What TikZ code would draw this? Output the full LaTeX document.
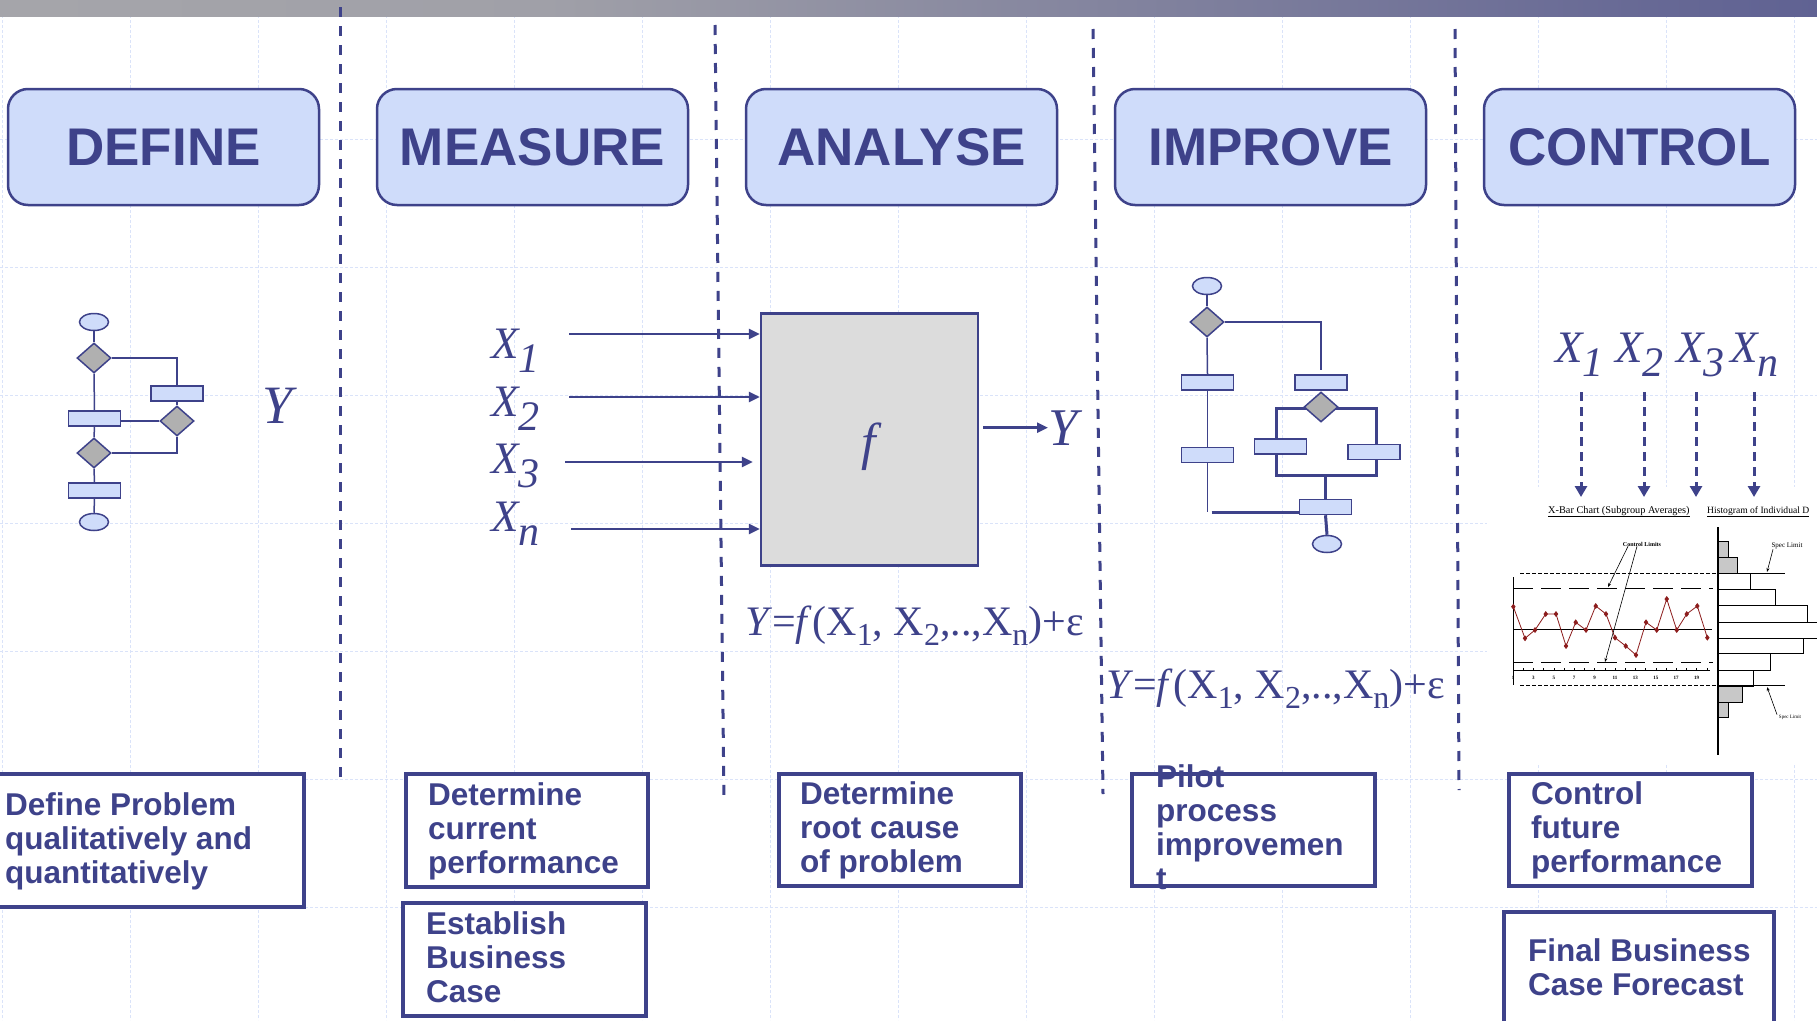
\documentclass[tikz,border=0pt]{standalone}
\usepackage{fontspec}
\setmainfont{Liberation Sans}
\newfontfamily\tnr{Liberation Serif}
\usetikzlibrary{shapes.geometric,arrows.meta,plotmarks}

\definecolor{ink}{RGB}{62,66,138}
\definecolor{paleblue}{RGB}{207,220,250}
\definecolor{diagray}{RGB}{176,176,176}
\definecolor{boxgray}{RGB}{220,220,220}
\definecolor{gridblue}{RGB}{218,227,249}
\definecolor{histgray}{RGB}{200,200,200}
\definecolor{barA}{RGB}{174,174,174}
\definecolor{barB}{RGB}{160,160,168}
\definecolor{barC}{RGB}{100,102,148}
\definecolor{barD}{RGB}{62,66,138}
\definecolor{chartred}{RGB}{140,28,28}

\pgfdeclarehorizontalshading{barshade}{100bp}{color(0bp)=(barA); color(40bp)=(barB); color(72bp)=(barC); color(100bp)=(barD)}

% line strut for the task boxes: height 25.5pt, depth 8.5pt
\newcommand{\ls}{\rule[-8.5pt]{0pt}{34pt}}
% lowered subscripts for the large labels and for the formula
\newcommand{\lsub}[1]{\raisebox{-14pt}{\fontsize{42}{42}\selectfont #1}}
\newcommand{\esub}[1]{\raisebox{-10pt}{\fontsize{32}{32}\selectfont #1}}

\tikzset{
  gridline/.style={gridblue, line width=1pt, dash pattern=on 3pt off 2pt},
  divider/.style={ink, line width=3pt, dash pattern=on 10pt off 9pt},
  phase/.style={draw=ink, fill=paleblue, line width=2.5pt, rounded corners=20pt,
    minimum width=311pt, minimum height=116pt, inner sep=0pt, text=ink,
    font=\fontsize{53}{60}\selectfont\bfseries},
  taskbox/.style={draw=ink, fill=white, line width=3.5pt, inner sep=0pt, outer sep=0pt},
  tasktext/.style={text=ink, font=\fontsize{31.5}{34}\selectfont\bfseries,
    align=left, inner sep=0pt, anchor=west},
  fcline/.style={ink, line width=1.5pt},
  fcthick/.style={ink, line width=3pt},
  fcrect/.style={draw=ink, fill=paleblue, line width=1.5pt, minimum width=52pt,
    minimum height=15pt, inner sep=0pt},
  fcdia/.style={diamond, draw=ink, fill=diagray, line width=1.5pt, minimum width=34pt,
    minimum height=30pt, inner sep=0pt},
  fcend/.style={ellipse, draw=ink, fill=paleblue, line width=1.5pt, minimum width=29pt,
    minimum height=17pt, inner sep=0pt},
  mathlbl/.style={text=ink, inner sep=0pt, anchor=base west,
    font=\tnr\itshape\fontsize{45}{45}\selectfont},
  formula/.style={text=ink, inner sep=0pt, anchor=base west,
    font=\tnr\fontsize{42}{42}\selectfont},
  arr/.style={ink, line width=2.5pt, -{Triangle[length=11pt,width=10pt]}},
  darr/.style={ink, line width=3pt, dash pattern=on 9pt off 6pt, -{Triangle[length=11pt,width=12pt]}},
  chartfont/.style={text=black, inner sep=0pt, font=\tnr\fontsize{#1}{#1}\selectfont},
  thinarr/.style={black, line width=0.6pt, -{Stealth[length=4pt,width=3pt]}},
}

\begin{document}
\begin{tikzpicture}[x=1pt, y=-1pt]
\useasboundingbox (0,0) rectangle (1817,1020);
\clip (0,0) rectangle (1817,1020);
\fill[white] (0,0) rectangle (1817,1020);

% background grid
\foreach \gx in {2,130,...,1794} \draw[gridline] (\gx,0) -- (\gx,1020);
\foreach \gy in {139,267,...,907} \draw[gridline] (0,\gy) -- (1817,\gy);

% title bar
\shade[shading=barshade] (0,0) rectangle (1817,16);

% column dividers
\draw[divider] (340,7) -- (340,782);
\draw[divider] (715,25) -- (724,800);
\draw[divider] (1093,29) -- (1103,794);
\draw[divider] (1455,29) -- (1459,790);

% phase headers
\node[phase] (hdef) at (163.5,147) {DEFINE};
\node[phase] (hmea) at (532.5,147) {MEASURE};
\node[phase] (hana) at (901.5,147) {ANALYSE};
\node[phase] (himp) at (1270.5,147) {IMPROVE};
\node[phase] (hcon) at (1639.5,147) {CONTROL};

% ---------- DEFINE: flowchart ----------
\node[fcend]  (e1) at (94,322) {};
\node[fcdia]  (dA) at (94,358) {};
\node[fcrect] (rR) at (177,393.5) {};
\node[fcdia]  (dB) at (177,421) {};
\node[fcrect] (rL) at (94.5,418.5) {};
\node[fcdia]  (dC) at (94,453) {};
\node[fcrect] (rB) at (94.5,490.5) {};
\node[fcend]  (e2) at (94,522) {};
\draw[fcline] (e1.south) -- (dA.north);
\draw[fcline] (dA.south) -- (rL.north);
\draw[fcline] (dA.east) -| (rR.north);
\draw[fcline] (rR.south) -- (dB.north);
\draw[fcline] (rL.east |- dB.west) -- (dB.west);
\draw[fcline] (rL.south) -- (dC.north);
\draw[fcline] (dC.east) -| (dB.south);
\draw[fcline] (dC.south) -- (rB.north);
\draw[fcline] (rB.south) -- (e2.north);
\node[mathlbl, font=\tnr\itshape\fontsize{54}{54}\selectfont] (ydef) at (262,423) {Y};

% ---------- MEASURE / ANALYSE: transfer function ----------
\node[mathlbl] (x1) at (491,358) {X\lsub{1}};
\node[mathlbl] (x2) at (491,416) {X\lsub{2}};
\node[mathlbl] (x3) at (491,473) {X\lsub{3}};
\node[mathlbl] (xn) at (491,531) {X\lsub{n}};
\node[draw=ink, fill=boxgray, line width=2.5pt, minimum width=217pt, minimum height=252pt,
      inner sep=0pt] (fbox) at (869.5,439.5) {};
\node[text=ink, inner sep=0pt, font=\tnr\itshape\fontsize{52}{52}\selectfont] (flab) at (869,447) {f};
\coordinate (s1) at (569,334);
\coordinate (s2) at (569,397);
\coordinate (s3) at (565,462);
\coordinate (s4) at (571,529);
\draw[arr] (s1) -- (s1 -| fbox.west);
\draw[arr] (s2) -- (s2 -| fbox.west);
\draw[arr, shorten >=7pt] (s3) -- (s3 -| fbox.west);
\draw[arr] (s4) -- (s4 -| fbox.west);
\node[mathlbl, font=\tnr\itshape\fontsize{53}{53}\selectfont] (yout) at (1048,445) {Y};
\draw[arr, shorten <=4pt] (fbox.east |- yout.west) -- (yout.west);
\node[formula] (eq1) at (745,635) {\textit{Y}=\textit{f}(X\esub{1}, X\esub{2},..,X\esub{n})+ε};

% ---------- IMPROVE: flowchart ----------
\node[fcend]  (ie1) at (1207,286) {};
\node[fcdia]  (idA) at (1207,322) {};
\node[fcrect] (irL1) at (1207.5,382.5) {};
\node[fcrect] (irR1) at (1321,382.5) {};
\node[fcrect] (irL2) at (1207.5,455) {};
\coordinate (bTL) at (1276,408);
\coordinate (bBL) at (1276,475);
\coordinate (bBR) at (1376,475);
\coordinate (bTR) at (1376,408);
\draw[fcthick] (bTL) -- (bBL) -- (bBR) -- (bTR) -- cycle;
\node[fcdia]  (idB) at (1321,407) {};
\node[fcrect] (irM1) at (1280.5,446.5) {};
\node[fcrect] (irM2) at (1374,452) {};
\node[fcrect] (irB) at (1325.5,507) {};
\node[fcend]  (ie2) at (1327,544) {};
\draw[fcline] (ie1.south) -- (idA.north);
\draw[fcline] (idA.south) -- (irL1.north);
\draw[fcline, shorten >=4pt] (idA.east) -| (irR1.north);
\draw[fcline] (irL1.south) -- (irL2.north);
\draw[fcline] (irL2.south) -- ++(0,49) coordinate (ic1);
\draw[fcthick] ([xshift=4pt]ic1) -- (ic1 -| irB.west);
\draw[fcthick] (irB.north |- bBL) -- (irB.north);
\draw[fcthick] (irB.south) -- (ie2.north);
\node[formula] (eq2) at (1106,698) {\textit{Y}=\textit{f}(X\esub{1}, X\esub{2},..,X\esub{n})+ε};

% ---------- CONTROL: inputs and control chart ----------
\node[mathlbl] (cx1) at (1555,362) {X\lsub{1}};
\node[mathlbl] (cx2) at (1615,362) {X\lsub{2}};
\node[mathlbl] (cx3) at (1676,362) {X\lsub{3}};
\node[mathlbl] (cxn) at (1730,362) {X\lsub{n}};

\node[fill=white, inner sep=0pt, minimum width=330pt, minimum height=278pt, anchor=north west] (chart) at (1487,487) {};

\foreach \cx/\nm in {1581/1,1644/2,1696/3,1754/4} {
  \coordinate (ct\nm) at (\cx,392);
  \coordinate (ch\nm) at (\cx,497);
  \draw[darr] (ct\nm) -- (ch\nm);
}

\node[chartfont=10.3, anchor=base west] (ctitle) at (1548,513) {\underline{X-Bar Chart (Subgroup Averages)}};
\node[chartfont=9.6, anchor=base west] (htitle) at (1707,513) {\underline{Histogram of Individual D}};

% x-bar chart
\draw[black, line width=0.8pt] (1513,577) -- (1513,685);
\draw[black, line width=0.8pt] (1513,670.7) -- (1710,670.7);
\foreach \i in {0,...,19} \draw[black, line width=0.6pt] ({1513+\i*10.2},670.7) -- ++(0,-2.5);
\foreach \i/\t in {0/1,2/3,4/5,6/7,8/9,10/11,12/13,14/15,16/17,18/19}
  \node[chartfont=5, font=\tnr\bfseries\fontsize{5}{5}\selectfont] at ({1513+\i*10.2},678) {\t};
\draw[black, line width=0.9pt] (1513,629.3) -- (1712,629.3);
\draw[black, line width=0.9pt, dash pattern=on 20pt off 8pt] (1513,588.3) -- (1713,588.3);
\draw[black, line width=0.9pt, dash pattern=on 20pt off 8pt] (1513,662.3) -- (1713,662.3);
\draw[black, line width=0.9pt, dash pattern=on 3.5pt off 2.5pt] (1520,573.3) -- (1718,573.3);
\draw[black, line width=0.9pt, dash pattern=on 3.5pt off 2.5pt] (1520,685.7) -- (1718,685.7);
\draw[chartred, line width=0.8pt, mark=diamond*, mark size=2.3pt, mark options={fill=chartred, draw=chartred}]
  plot coordinates {(1513.3,606.7) (1525,638.3) (1535,630) (1545.7,614) (1556,614) (1566,646)
  (1575.7,622.3) (1586,630) (1595.7,606) (1606,614) (1615,637.7) (1625.7,646) (1636,655)
  (1646,622.3) (1656.7,630) (1666.7,599) (1676.7,630) (1686.7,614) (1697.3,606) (1707.3,637.7)};
\node[chartfont=6, font=\tnr\bfseries\fontsize{6}{6}\selectfont] (clim) at (1642,544) {Control Limits};
\draw[thinarr] ([xshift=-14pt]clim.south) -- (1608,587);
\draw[thinarr] ([xshift=-5pt]clim.south) -- (1605,662);

% histogram
\draw[black, line width=1.2pt] (1718,527) -- (1718,755);
\foreach \ya/\yb/\xr/\fc in {541/557/1728/histgray, 557/573/1737/histgray, 573/589/1750/white,
  589/605/1775/white, 605/622/1807/white, 622/638/1822/white, 638/653/1803/white,
  653/670/1770/white, 670/686/1753/white, 686/702/1742/histgray, 702/717/1728/histgray}
  \draw[black, line width=0.6pt, fill=\fc] (1718,\ya) rectangle (\xr,\yb);
\draw[black, line width=1.4pt] (1718,573.3) -- (1785,573.3);
\draw[black, line width=1.4pt] (1718,685.7) -- (1785,685.7);
\node[chartfont=7] (spec1) at (1787,546) {Spec Limit};
\node[chartfont=5] (spec2) at (1790,717) {Spec Limit};
\draw[thinarr] ([xshift=-14pt]spec1.south) -- (1767,572);
\draw[thinarr] ([xshift=-13pt]spec2.north) -- (1767,687);

% ---------- task boxes ----------
\node[taskbox, minimum width=321pt, minimum height=133pt] (bdef) at (143.5,840.5) {};
\node[tasktext] (tdef) at ([xshift=22pt]bdef.west) {\ls Define Problem\\\ls qualitatively and\\\ls quantitatively};

\node[taskbox, minimum width=242pt, minimum height=113pt] (bmea1) at (527,830.5) {};
\node[tasktext] (tmea1) at ([xshift=22pt]bmea1.west) {\ls Determine\\\ls current\\\ls performance};

\node[taskbox, minimum width=243pt, minimum height=113pt] (bmea2) at (524.5,959.5) {};
\node[tasktext] (tmea2) at ([xshift=23pt]bmea2.west) {\ls Establish\\\ls Business\\\ls Case};

\node[taskbox, minimum width=242pt, minimum height=112pt] (bana) at (900,830) {};
\node[tasktext] (tana) at ([xshift=21pt]bana.west) {\ls Determine\\\ls root cause\\\ls of problem};

\node[taskbox, minimum width=243pt, minimum height=112pt] (bimp) at (1253.5,830) {};
\node[tasktext] (timp) at ([xshift=24pt]bimp.west) {\ls Pilot\\\ls process\\\ls improvemen\\\ls t};

\node[taskbox, minimum width=243pt, minimum height=112pt] (bcon) at (1630.5,830) {};
\node[tasktext] (tcon) at ([xshift=22pt]bcon.west) {\ls Control\\\ls future\\\ls performance};

\node[taskbox, minimum width=270pt, minimum height=116pt] (bfin) at (1639,970) {};
\node[tasktext] (tfin) at ([xshift=24pt]bfin.west) {\ls Final Business\\\ls Case Forecast};
\end{tikzpicture}
\end{document}
